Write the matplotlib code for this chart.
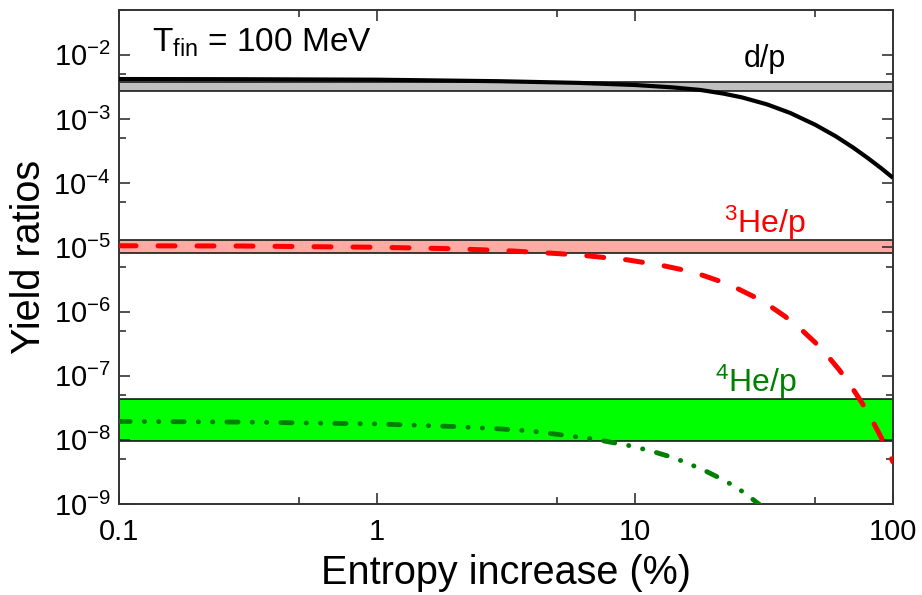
import matplotlib
matplotlib.use("Agg")
import matplotlib.pyplot as plt
from matplotlib.ticker import LogLocator, LogFormatterSciNotation, FixedLocator, FixedFormatter, NullFormatter

plt.rcParams['font.family'] = ['Liberation Sans', 'DejaVu Sans']
plt.rcParams['mathtext.fontset'] = 'custom'
plt.rcParams['mathtext.rm'] = 'Liberation Sans'
plt.rcParams['mathtext.it'] = 'Liberation Sans:italic'
plt.rcParams['mathtext.bf'] = 'Liberation Sans:bold'

# Deuteron-to-proton ratio vs entropy increase
entropy_dp = [0.1, 0.3, 1, 3, 6, 10, 14, 18, 22, 26, 32.5, 40, 50, 60, 70, 80, 90, 100]
ratio_dp = [4.2e-3, 4.17e-3, 4.1e-3, 3.88e-3, 3.66e-3, 3.39e-3, 3.11e-3, 2.83e-3,
            2.49e-3, 2.17e-3, 1.69e-3, 1.24e-3, 8.12e-4, 5.38e-4, 3.6e-4,
            2.45e-4, 1.71e-4, 1.21e-4]

# Helium-3-to-proton ratio
entropy_he3 = [0.1, 0.3, 1, 2, 3.3, 5, 6.5, 9.3, 12.8, 15, 17.9, 21, 24.9, 29,
               33.4, 38, 43.6, 50, 56, 62, 69, 76, 83, 91, 100]
ratio_he3 = [1.058e-5, 1.048e-5, 1.003e-5, 9.5e-6, 8.8e-6, 8.0e-6, 7.4e-6, 6.4e-6,
             5.2e-6, 4.54e-6, 3.78e-6, 3.03e-6, 2.29e-6, 1.69e-6, 1.21e-6, 8.49e-7,
             5.47e-7, 3.27e-7, 2.0e-7, 1.22e-7, 6.75e-8, 3.71e-8, 2.02e-8, 1.0e-8,
             4.52e-9]

# Helium-4-to-proton ratio
entropy_he4 = [0.1, 0.3, 1, 2, 3, 4.03, 6.9, 9.4, 11.4, 13.4, 15.4, 18.4, 21.9,
               25, 28.7, 32, 36]
ratio_he4 = [1.94e-8, 1.89e-8, 1.77e-8, 1.61e-8, 1.48e-8, 1.36e-8, 1.03e-8, 8.2e-9,
             6.8e-9, 5.6e-9, 4.6e-9, 3.4e-9, 2.4e-9, 1.77e-9, 1.17e-9, 8.3e-10,
             5.5e-10]

# Measured ranges (lower, upper)
band_dp = (2.78e-3, 3.84e-3)
band_he3 = (8.15e-6, 1.31e-5)
band_he4 = (9.5e-9, 4.33e-8)

x_ticks = [0.1, 1, 10, 100]
x_ticklabels = ["0.1", "1", "10", "100"]

fig = plt.figure(figsize=(9.22, 5.95), dpi=100)
ax = fig.add_axes([119 / 922, 1 - 504 / 595, (893 - 119) / 922, (504 - 10) / 595])
ax.set_xscale('log')
ax.set_yscale('log')
ax.set_xlim(0.1, 100)
ax.set_ylim(1e-9, 5.0e-2)

edge = '#1a1a1a'
for (lo, hi), fc in [(band_dp, '#c0c0c0'), (band_he3, '#ffaaa2'), (band_he4, '#00ff00')]:
    ax.axhspan(lo, hi, facecolor=fc, edgecolor='none', zorder=1)
    ax.axhline(lo, color=edge, lw=1.2, zorder=1.5)
    ax.axhline(hi, color=edge, lw=1.2, zorder=1.5)

ax.plot(entropy_dp, ratio_dp, color='black', lw=3.0, solid_capstyle='butt',
        solid_joinstyle='round', zorder=3)
ax.plot(entropy_he3, ratio_he3, color='#ff0000', lw=3.6,
        dashes=(3.4, 4.4), dash_capstyle='round', zorder=3)
ax.plot(entropy_he4, ratio_he4, color='#008000', lw=3.5,
        dashes=(2.3, 2.9, 0.05, 2.9, 0.05, 2.9), dash_capstyle='round', zorder=3)

# Axis ticks
ax.xaxis.set_major_locator(FixedLocator(x_ticks))
ax.xaxis.set_major_formatter(FixedFormatter(x_ticklabels))
ax.xaxis.set_minor_locator(LogLocator(base=10, subs=[5.0], numticks=20))
ax.xaxis.set_minor_formatter(NullFormatter())
ax.yaxis.set_major_locator(LogLocator(base=10, numticks=20))
ax.yaxis.set_major_formatter(LogFormatterSciNotation())
ax.yaxis.set_minor_locator(LogLocator(base=10, subs=[5.0], numticks=20))
ax.yaxis.set_minor_formatter(NullFormatter())

ax.tick_params(which='both', direction='in', top=True, right=True,
               colors='#222222', labelcolor='black')
ax.tick_params(which='major', length=8, width=1.1, labelsize=21)
ax.tick_params(which='major', axis='y', pad=6)
ax.tick_params(which='major', axis='x', pad=10)
ax.tick_params(which='minor', length=5, width=1.1)
for sp in ax.spines.values():
    sp.set_color('#333333')
    sp.set_linewidth(1.4)

ax.set_xlabel('Entropy increase (%)', fontsize=28.5, labelpad=6)
ax.set_ylabel('Yield ratios', fontsize=28.5, labelpad=4)

ax.text(0.043, 0.915, r'T$_{\mathrm{fin}}$ = 100 MeV', transform=ax.transAxes,
        fontsize=24, ha='left', va='baseline')
ax.text(32, 6.5e-3, 'd/p', fontsize=22, ha='center', va='baseline', color='black')
ax.text(32, 1.67e-5, r'$^{3}$He/p', fontsize=23, ha='center', va='baseline', color='#ff0000')
ax.text(29.5, 5.64e-8, r'$^{4}$He/p', fontsize=23, ha='center', va='baseline', color='#008000')

fig.savefig('out.png', dpi=100)
